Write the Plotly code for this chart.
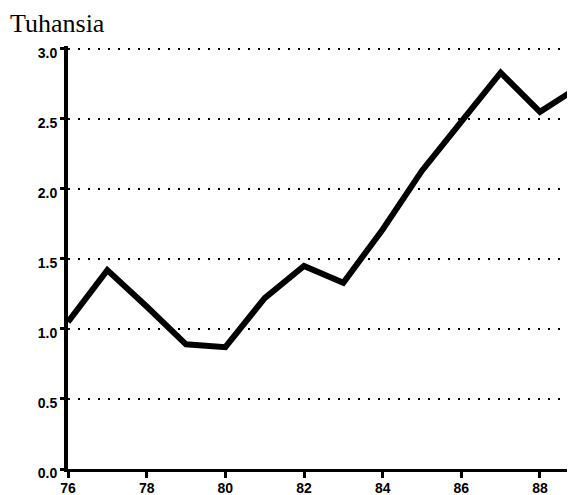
import plotly.graph_objects as go

years = [76, 77, 78, 79, 80, 81, 82, 83, 84, 85, 86, 87, 88, 89]
values = [1.05, 1.42, 1.16, 0.89, 0.87, 1.22, 1.45, 1.33, 1.71, 2.13, 2.48, 2.83, 2.55, 2.73]
x_ticks = [76, 78, 80, 82, 84, 86, 88]
y_ticks = [0.0, 0.5, 1.0, 1.5, 2.0, 2.5, 3.0]
title_text = "Tuhansia"

fig = go.Figure()
fig.add_trace(go.Scatter(x=years, y=values, mode="lines",
                         line=dict(color="black", width=6), showlegend=False))

tickfont = dict(family="Liberation Sans, Arial, sans-serif", size=14, color="black", weight="bold")
fig.update_layout(
    width=567, height=487,
    margin=dict(l=60, r=0, t=38, b=26),
    paper_bgcolor="white", plot_bgcolor="white",
    title=dict(text=title_text, xref="container", yref="container",
               x=2/567, xanchor="left", y=1-15/487, yanchor="middle",
               font=dict(family="Liberation Serif, Times New Roman, serif", size=26, color="black")),
    xaxis=dict(range=[76, 88.89], tickvals=x_ticks, ticktext=[str(v) for v in x_ticks],
               showgrid=False, zeroline=False, showline=True, linecolor="black", linewidth=3,
               ticks="outside", ticklen=6, tickwidth=2.5, tickcolor="black", tickfont=tickfont,
               ticklabelstandoff=-2),
    yaxis=dict(range=[0, 3.02], tickvals=y_ticks, ticktext=[f"{v:.1f}" for v in y_ticks],
               showgrid=True, gridcolor="black", gridwidth=1.5, griddash="2px,8px",
               zeroline=False, showline=True, linecolor="black", linewidth=4,
               ticks="outside", ticklen=4, tickwidth=2.5, tickcolor="black", tickfont=tickfont,
               ticklabelshift=4),
)
fig.write_html("out.html")
